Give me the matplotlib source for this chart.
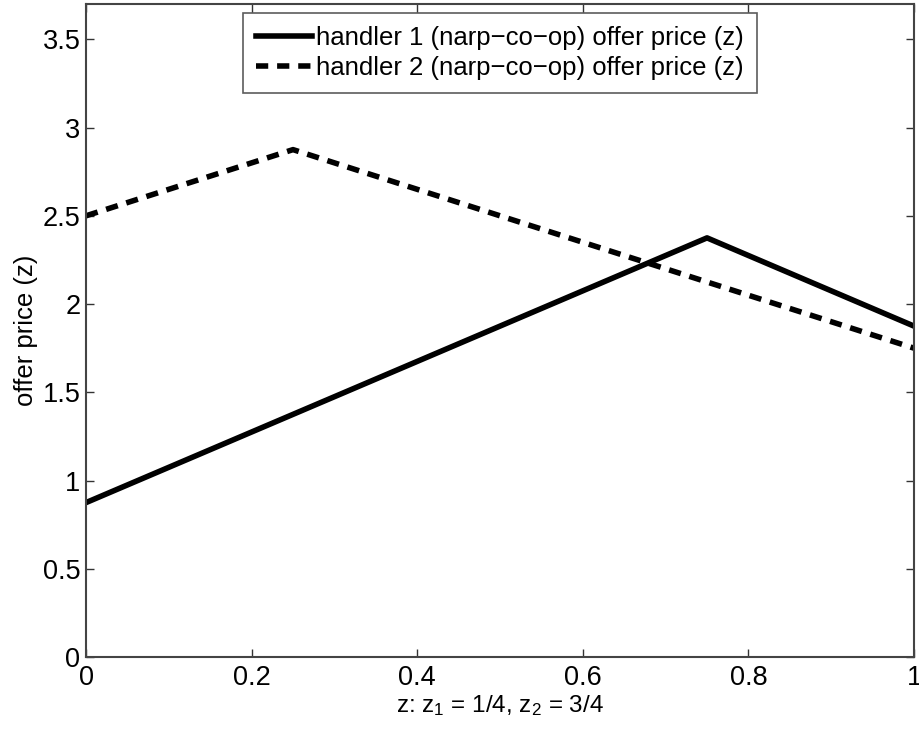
import matplotlib
matplotlib.use("Agg")
import matplotlib.pyplot as plt

plt.rcParams['font.family'] = ['Liberation Sans', 'DejaVu Sans']
plt.rcParams['mathtext.fontset'] = 'custom'
plt.rcParams['mathtext.rm'] = 'Liberation Sans'
plt.rcParams['mathtext.it'] = 'Liberation Sans'

x1 = [0.0, 0.75, 1.0]
y1 = [0.875, 2.375, 1.875]
x2 = [0.0, 0.25, 1.0]
y2 = [2.5, 2.875, 1.75]
labels = ["handler 1 (narp\u2212co\u2212op) offer price (z)",
          "handler 2 (narp\u2212co\u2212op) offer price (z)"]
xticks = [0, 0.2, 0.4, 0.6, 0.8, 1]
xticklabels = ["0", "0.2", "0.4", "0.6", "0.8", "1"]
yticks = [0, 0.5, 1, 1.5, 2, 2.5, 3, 3.5]
yticklabels = ["0", "0.5", "1", "1.5", "2", "2.5", "3", "3.5"]

fig = plt.figure(figsize=(9.2, 7.31), dpi=100)
ax = fig.add_axes([0.0935, 0.1012, 0.9, 0.8933])
ax.plot(x1, y1, color='black', lw=4, solid_joinstyle='round', label=labels[0])
ax.plot(x2, y2, color='black', lw=4, linestyle=(0, (2.2, 1.6)), label=labels[1])
ax.set_xlim(0, 1)
ax.set_ylim(0, 3.7)
ax.set_xticks(xticks)
ax.set_xticklabels(xticklabels)
ax.set_yticks(yticks)
ax.set_yticklabels(yticklabels)
ax.tick_params(direction='in', length=6, width=1, top=True, right=True, labelsize=19.5,
               colors='#333333', labelcolor='black')
ax.tick_params(axis='x', pad=6)
ax.tick_params(axis='y', pad=4)
for s in ax.spines.values():
    s.set_linewidth(1.5)
    s.set_color('#444444')
ax.set_xlabel("z: z$_1$ = 1/4, z$_2$ = 3/4", fontsize=17.5, labelpad=1)
ax.set_ylabel("offer price (z)", fontsize=18.5, labelpad=3)
leg = ax.legend(loc='upper center', bbox_to_anchor=(0.5, 0.986), fontsize=18.5,
                frameon=True, fancybox=False, edgecolor='#333333', handlelength=2.2,
                handletextpad=0.15, borderpad=0.5, labelspacing=0.22, borderaxespad=0)
leg.get_frame().set_linewidth(1.2)
fig.savefig("out.png", dpi=100)
